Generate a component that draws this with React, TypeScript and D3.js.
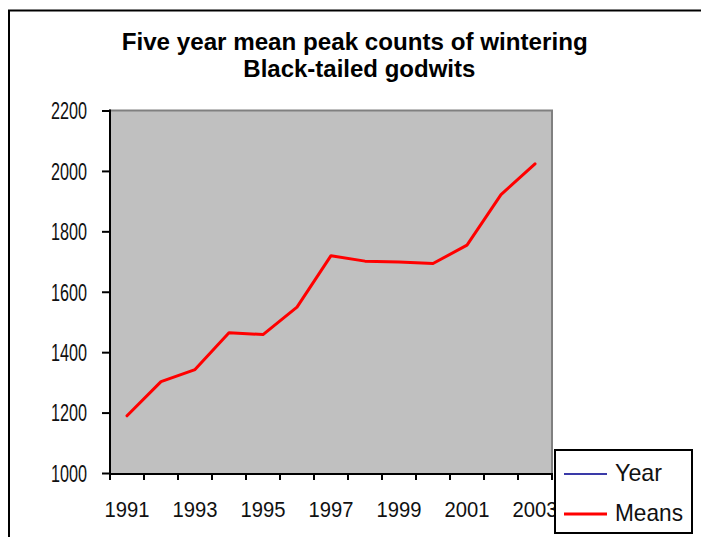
import React from "react";
import * as d3 from "d3";

const years = ["1991","1992","1993","1994","1995","1996","1997","1998","1999","2000","2001","2002","2003"];
const means = [1191, 1304, 1344, 1466, 1460, 1551, 1721, 1703, 1700, 1695, 1756, 1923, 2025];
const yTicks = [1000, 1200, 1400, 1600, 1800, 2000, 2200];
const xLabels = ["1991","1993","1995","1997","1999","2001","2003"];
const titleLines = ["Five year mean peak counts of wintering", "Black-tailed godwits"];
const legendItems = [{ name: "Year", color: "#3a3aa8", w: 2 }, { name: "Means", color: "#ff0000", w: 3 }];

export default function App() {
  const W = 701, H = 537;
  const left = 110, right = 552, top = 110.5, bottom = 474;
  const x = d3.scaleBand<string>().domain(years).range([left, right]);
  const y = d3.scaleLinear().domain([1000, 2200]).range([473.5, 111]);
  const line = d3.line<number>()
    .x((_, i) => (x(years[i]) as number) + x.bandwidth() / 2)
    .y((d) => y(d));
  const font = "'Liberation Sans', Arial, sans-serif";
  const boundaries = d3.range(years.length + 1).map((i) => left + i * x.step());
  return (
    <svg width={W} height={H} style={{ position: "absolute", left: 0, top: 0, background: "#fff" }}>
      <rect x={9} y={10.5} width={W + 20} height={H + 20} fill="#fff" stroke="#000" strokeWidth={2} />
      <text x={121.7} y={50} fontFamily={font} fontWeight="bold" fontSize={24} textLength={466} lengthAdjust="spacingAndGlyphs">{titleLines[0]}</text>
      <text x={243.3} y={77} fontFamily={font} fontWeight="bold" fontSize={24} textLength={232} lengthAdjust="spacingAndGlyphs">{titleLines[1]}</text>
      <rect x={left} y={top} width={right - left} height={bottom - top} fill="#c0c0c0" stroke="#808080" strokeWidth={2} />
      <line x1={left} y1={top - 1} x2={left} y2={bottom} stroke="#000" strokeWidth={2} />
      <line x1={left - 1} y1={bottom} x2={right + 1} y2={bottom} stroke="#000" strokeWidth={2} />
      {yTicks.map((t) => (
        <g key={t}>
          <line x1={left - 8} x2={left} y1={y(t)} y2={y(t)} stroke="#000" strokeWidth={2} />
          <text x={87} y={y(t)} dy="0.36em" textAnchor="end" fontFamily={font} fontSize={23} textLength={36} lengthAdjust="spacingAndGlyphs" fill="#111">{t}</text>
        </g>
      ))}
      {boundaries.map((b, i) => (
        <line key={i} x1={b} x2={b} y1={bottom} y2={bottom + 6} stroke="#000" strokeWidth={2} />
      ))}
      {xLabels.map((l) => (
        <text key={l} x={(x(l) as number) + x.bandwidth() / 2} y={517} textAnchor="middle" fontFamily={font} fontSize={22} textLength={45} lengthAdjust="spacingAndGlyphs" fill="#111">{l}</text>
      ))}
      <path d={line(means) || ""} fill="none" stroke="#ff0000" strokeWidth={3} strokeLinejoin="round" strokeLinecap="round" />
      <rect x={555} y={450} width={137} height={83} fill="#fff" stroke="#000" strokeWidth={2} />
      {legendItems.map((it, i) => (
        <g key={it.name}>
          <line x1={564} x2={607} y1={474 + i * 40} y2={474 + i * 40} stroke={it.color} strokeWidth={it.w} />
          <text x={615} y={481 + i * 40} fontFamily={font} fontSize={24} textLength={it.name === "Year" ? 47 : 68} lengthAdjust="spacingAndGlyphs" fill="#111">{it.name}</text>
        </g>
      ))}
    </svg>
  );
}
